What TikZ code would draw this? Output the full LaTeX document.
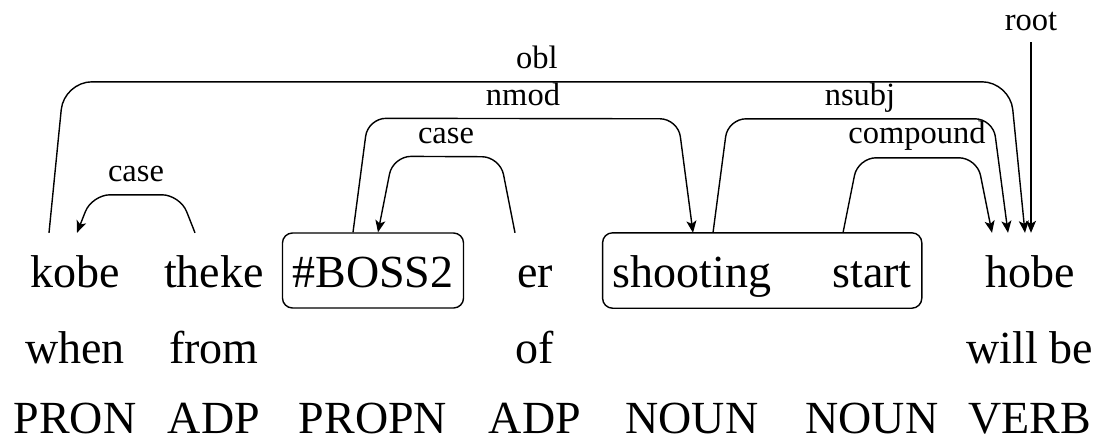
\documentclass[tikz,border=0pt]{standalone}
\usepackage{fontspec}
\setmainfont{Liberation Serif}
\usetikzlibrary{arrows.meta,calc,fit}
\begin{document}
\begin{tikzpicture}[x=1pt,y=-1pt,
  word/.style={anchor=base, font=\fontsize{46}{46}\selectfont,
    text height=45pt, text depth=12pt, inner ysep=9pt, inner xsep=10pt},
  gloss/.style={anchor=base, font=\fontsize{46}{46}\selectfont, inner sep=0pt},
  grp/.style={draw, line width=1.4pt, rounded corners=10pt},
  rel/.style={anchor=base, font=\fontsize{32.5}{32.5}\selectfont, inner sep=0pt},
  arc/.style={draw, line width=1.4pt, rounded corners=18pt,
    -{Stealth[length=12pt,width=10pt,inset=3pt]}},
]
\useasboundingbox (0,0) rectangle (1100,440);

% tokens
\node[word] (kobe)  at (75,287)  {kobe};
\node[word] (theke) at (214,287) {theke};
\node[word,grp] (boss) at (373,287) {\#BOSS2};
\node[word] (er)    at (535,287) {er};
\node[word] (shoot) at (692,287) {shooting};
\node[word] (start) at (872,287) {start};
\node[word] (hobe)  at (1030,287) {hobe};
\node[grp, fit=(shoot)(start), inner sep=0pt] (nbox) {};

% glosses
\node[gloss] (g1) at (75,363)   {when};
\node[gloss] (g2) at (214,363)  {from};
\node[gloss] (g4) at (535,363)  {of};
\node[gloss] (g7) at (1030,363) {will be};

% part-of-speech tags
\node[gloss] (p1) at (75,433)   {PRON};
\node[gloss] (p2) at (214,433)  {ADP};
\node[gloss] (p3) at (373,433)  {PROPN};
\node[gloss] (p4) at (535,433)  {ADP};
\node[gloss] (p5) at (692,433)  {NOUN};
\node[gloss] (p6) at (872,433)  {NOUN};
\node[gloss] (p7) at (1030,433) {VERB};

% attachment points of the arcs
\coordinate (oblT)  at ($(kobe.north)+(-26,0)$);
\coordinate (oblH)  at ($(hobe.north)+(-5,0)$);
\coordinate (c1T)   at ($(theke.north)+(-19,0)$);
\coordinate (c1H)   at ($(kobe.north)+(2,0)$);
\coordinate (nmT)   at ($(boss.north)+(-20,0)$);
\coordinate (nmH)   at ($(shoot.north)+(1,0)$);
\coordinate (c2T)   at ($(er.north)+(-20,0)$);
\coordinate (c2H)   at ($(boss.north)+(5,0)$);
\coordinate (nsT)   at ($(shoot.north)+(21,0)$);
\coordinate (nsH)   at ($(hobe.north)+(-22,0)$);
\coordinate (cpT)   at ($(start.north)+(-29,0)$);
\coordinate (cpH)   at ($(hobe.north)+(-38,0)$);
\coordinate (rtH)   at ($(hobe.north)+(1,0)$);

% dependency arcs
\draw[arc, rounded corners=28pt] (oblT) -- ++(15,-151) -- ($(oblH)+(-15,-151)$) -- (oblH);
\draw[arc] (c1T) -- ++(-15,-38)  -- ($(c1H)+(15,-38)$)   -- (c1H);
\draw[arc] (nmT) -- ++(15,-114)  -- ($(nmH)+(-15,-114)$) -- (nmH);
\draw[arc] (c2T) -- ++(-15,-76)  -- ($(c2H)+(15,-76)$)   -- (c2H);
\draw[arc] (nsT) -- ++(15,-114)  -- ($(nsH)+(-15,-114)$) -- (nsH);
\draw[arc] (cpT) -- ++(15,-75)   -- ($(cpH)+(-15,-75)$)  -- (cpH);

% relation labels
\node[rel] (lobl)  at (537,68)  {obl};
\node[rel] (lc1)   at (136,181) {case};
\node[rel] (lnm)   at (523,105) {nmod};
\node[rel] (lc2)   at (446,143) {case};
\node[rel] (lns)   at (860,105) {nsubj};
\node[rel] (lcp)   at (917,143) {compound};
\node[rel] (lrt)   at (1031,30) {root};

\draw[arc] ([yshift=-12pt]lrt.base) -- (rtH);
\end{tikzpicture}
\end{document}
